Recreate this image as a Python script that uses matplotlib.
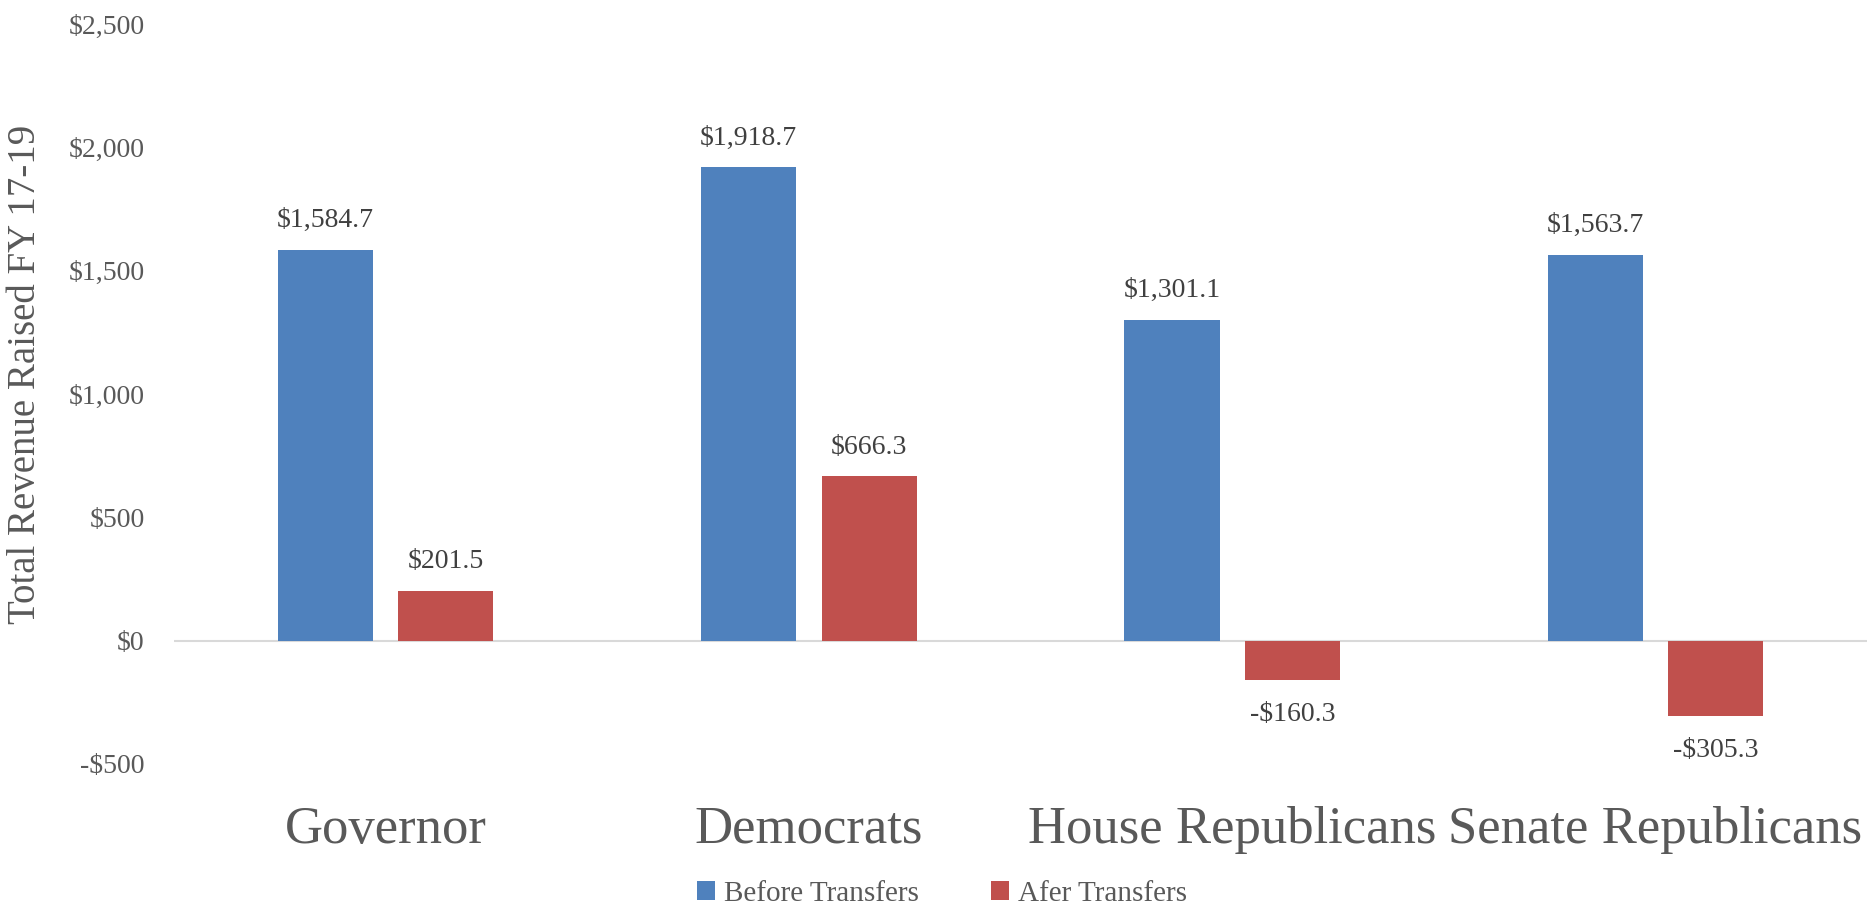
import numpy as np
import matplotlib
matplotlib.use("Agg")
from matplotlib import pyplot as plt
from matplotlib.ticker import FuncFormatter

categories = ["Governor", "Democrats", "House Republicans", "Senate Republicans"]
before = [1584.7, 1918.7, 1301.1, 1563.7]
after = [201.5, 666.3, -160.3, -305.3]
series_names = ["Before Transfers", "Afer Transfers"]

plt.rcParams['font.family'] = ['Liberation Serif', 'DejaVu Serif']

fig = plt.figure(figsize=(18.69, 9.13), dpi=100)
ax = fig.add_axes([0.0931, 0.1632, 0.9059, 0.8105])

x = np.arange(len(categories))
w = 0.225
off = 0.1423
b1 = ax.bar(x - off, before, w, color="#4F81BD", label=series_names[0], zorder=3)
b2 = ax.bar(x + off, after, w, color="#C0504D", label=series_names[1], zorder=3)

def money(v):
    s = "${:,.1f}".format(abs(v))
    return "-" + s if v < 0 else s

for bars, vals in ((b1, before), (b2, after)):
    for r, v in zip(bars, vals):
        y = r.get_height() if v >= 0 else v
        dy = 21 if v >= 0 else -25
        ax.annotate(money(v), (r.get_x() + r.get_width() / 2, y),
                    xytext=(0, dy), textcoords="offset points",
                    ha="center", va="center", fontsize=20, color="#404040")

ax.set_xlim(-0.5, 3.5)
ax.set_ylim(-500, 2500)
ax.set_yticks(np.arange(-500, 2501, 500))
ax.yaxis.set_major_formatter(FuncFormatter(lambda v, p: ("-$" if v < 0 else "$") + "{:,.0f}".format(abs(v))))
ax.axhline(0, color="#D9D9D9", lw=1.5, zorder=2)

ax.set_xticks(x)
ax.set_xticklabels(categories, fontsize=38, color="#595959")
ax.tick_params(axis="x", length=0, pad=30)
ax.tick_params(axis="y", length=0, pad=21, labelsize=20, labelcolor="#595959")
for s in ax.spines.values():
    s.set_visible(False)

ax.set_ylabel("Total Revenue Raised FY 17-19", fontsize=28, color="#595959")
ax.yaxis.set_label_coords(-0.077, 0.527)

fig.legend(handles=[b1, b2], loc="center", bbox_to_anchor=(0.504, 0.021), ncol=2,
           frameon=False, fontsize=21, labelcolor="#595959",
           handlelength=0.6, handleheight=0.6, handletextpad=0.3, columnspacing=2.5)

fig.savefig("out.png", dpi=100)
